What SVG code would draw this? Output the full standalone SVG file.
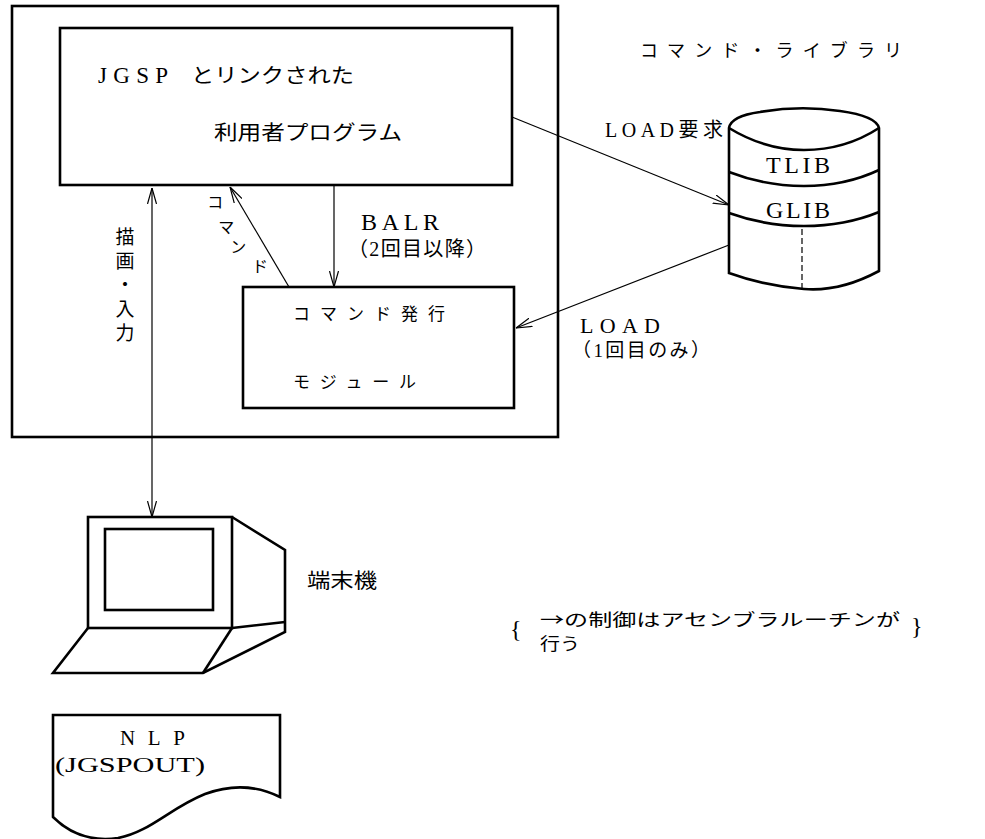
<svg xmlns="http://www.w3.org/2000/svg" width="985" height="839" viewBox="0 0 985 839">
  <style>
    .box { fill: none; stroke: #000; stroke-width: 2.6; stroke-linejoin: miter; }
    .thin { fill: none; stroke: #000; stroke-width: 1.2; }
    .jp { font-family: "Noto Sans CJK JP", sans-serif; fill: #000; }
    .lat { font-family: "Liberation Serif", "Noto Sans CJK JP", serif; fill: #000; }
  </style>
  <defs>
    <marker id="head" viewBox="0 0 16 10" refX="16" refY="5" markerWidth="16" markerHeight="10" markerUnits="userSpaceOnUse" orient="auto-start-reverse">
      <path d="M0,0.5 L16,5 L0,9.5" fill="none" stroke="#000" stroke-width="1.2"/>
    </marker>
  </defs>

  <rect width="985" height="839" fill="#fff"/>

  <!-- process boundary holding the program and the command module -->
  <g id="process">
    <rect class="box" x="12" y="6" width="546" height="431"/>
  </g>

  <g id="user-program">
    <rect class="box" x="60" y="28" width="452" height="157"/>
    <text class="lat" x="98" y="83" font-size="23" textLength="70" lengthAdjust="spacing">JGSP</text>
    <text class="jp" x="191" y="83" font-size="20" textLength="163" lengthAdjust="spacingAndGlyphs">とリンクされた</text>
    <text class="jp" x="214" y="140" font-size="20" textLength="188" lengthAdjust="spacingAndGlyphs">利用者プログラム</text>
  </g>

  <g id="command-module">
    <rect class="box" x="243" y="287" width="271" height="121"/>
    <text class="jp" x="293" y="320" font-size="17" textLength="152" lengthAdjust="spacing">コマンド発行</text>
    <text class="jp" x="293" y="388" font-size="17" textLength="123" lengthAdjust="spacing">モジュール</text>
  </g>

  <g id="command-library">
    <text class="jp" x="640" y="57" font-size="18" textLength="262" lengthAdjust="spacing">コマンド・ライブラリ</text>
    <path class="box" d="M729,128 Q731,116 760,112 Q800,105 840,111 Q876,116 879,128 L879,271 Q840,292 804,289 Q765,286 729,273 Z"/>
    <path class="box" d="M729,128 Q765,150 804,150 Q845,150 879,128"/>
    <path class="box" d="M729,172 Q765,186 804,186 Q845,186 879,170"/>
    <path class="box" d="M729,213 Q765,226 804,226 Q845,226 879,212"/>
    <line x1="802" y1="229" x2="802" y2="288" stroke="#000" stroke-width="1.2" stroke-dasharray="6,3"/>
    <text class="lat" x="798" y="173" font-size="24" text-anchor="middle" textLength="64" lengthAdjust="spacing">TLIB</text>
    <text class="lat" x="798" y="218" font-size="24" text-anchor="middle" textLength="64" lengthAdjust="spacing">GLIB</text>
  </g>

  <g id="terminal">
    <rect class="box" x="88" y="517" width="144" height="111"/>
    <rect class="box" x="105" y="529" width="108" height="81"/>
    <path class="box" d="M232,517 L285,550 L285,632 L203,673 L53,673 L88,628"/>
    <path class="box" d="M232,628 L285,622"/>
    <path class="box" d="M232,628 L203,673"/>
    <text class="jp" x="307" y="588" font-size="20" textLength="70" lengthAdjust="spacingAndGlyphs">端末機</text>
  </g>

  <g id="printer-output">
    <path class="box" d="M53,817 L53,715 L280,715 L280,797 C258,786 232,784 205,794 C170,808 150,832 118,838 C90,842 68,832 53,817 Z"/>
    <text class="lat" x="120" y="745" font-size="21" textLength="65" lengthAdjust="spacing">NLP</text>
    <text class="lat" x="55" y="772" font-size="22" textLength="150" lengthAdjust="spacingAndGlyphs">(JGSPOUT)</text>
  </g>

  <g id="connectors">
    <!-- drawing / input between the program and the terminal -->
    <line class="thin" x1="152" y1="188" x2="152" y2="517" marker-start="url(#head)" marker-end="url(#head)"/>
    <!-- command call back into the program -->
    <line class="thin" x1="289" y1="287" x2="230" y2="187" marker-end="url(#head)"/>
    <!-- BALR from the program into the command module -->
    <line class="thin" x1="334" y1="185" x2="334" y2="287" marker-end="url(#head)"/>
    <!-- LOAD request to the library -->
    <line class="thin" x1="512" y1="117" x2="729" y2="205" marker-end="url(#head)"/>
    <!-- LOAD from the library into the command module -->
    <line class="thin" x1="729" y1="245" x2="516" y2="328" marker-end="url(#head)"/>
  </g>

  <g id="labels">
    <text class="jp" x="125" y="227" font-size="19" writing-mode="tb" letter-spacing="5">描画・入力</text>
    <text class="jp" font-size="16" text-anchor="middle">
      <tspan x="217" y="208">コ</tspan>
      <tspan x="228" y="233">マ</tspan>
      <tspan x="240" y="253">ン</tspan>
      <tspan x="260" y="272">ド</tspan>
    </text>
    <text class="lat" x="361" y="230" font-size="24" textLength="78" lengthAdjust="spacing">BALR</text>
    <text class="lat" x="348" y="256" font-size="20" textLength="138" lengthAdjust="spacing">（2回目以降）</text>
    <text class="lat" x="605" y="137" font-size="20" textLength="118" lengthAdjust="spacing">LOAD要求</text>
    <text class="lat" x="580" y="333" font-size="22" textLength="80" lengthAdjust="spacing">LOAD</text>
    <text class="lat" x="572" y="357" font-size="19" textLength="138" lengthAdjust="spacing">（1回目のみ）</text>
  </g>

  <g id="note">
    <text class="lat" x="510" y="637" font-size="24">{</text>
    <text class="jp" x="540" y="626" font-size="17" textLength="360" lengthAdjust="spacingAndGlyphs">→の制御はアセンブラルーチンが</text>
    <text class="jp" x="540" y="650" font-size="17" textLength="40" lengthAdjust="spacingAndGlyphs">行う</text>
    <text class="lat" x="911" y="634" font-size="24">}</text>
  </g>
</svg>
